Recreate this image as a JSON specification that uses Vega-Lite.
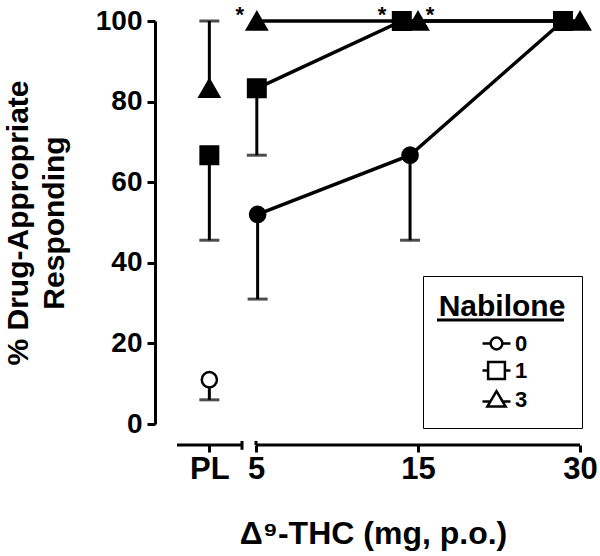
{
  "$schema": "https://vega.github.io/schema/vega-lite/v6.json",
  "width": 436,
  "height": 403,
  "autosize": {"type": "none"},
  "padding": {"left": 155, "top": 21, "right": 9, "bottom": 132},
  "background": "white",
  "config": {
    "view": {"stroke": null},
    "font": "Liberation Sans",
    "axis": {
      "labelFont": "Liberation Sans",
      "titleFont": "Liberation Sans",
      "labelFontWeight": "bold",
      "titleFontWeight": "bold",
      "labelColor": "black",
      "titleColor": "black",
      "domainColor": "black",
      "tickColor": "black",
      "grid": false,
      "labelFlush": false,
      "labelOverlap": false,
      "labelBound": false
    }
  },
  "datasets": {
    "points": [
      {"dose": "PL", "pos": 0.712, "group": "0", "pct": 11, "cap": 6},
      {"dose": "PL", "pos": 0.712, "group": "1", "pct": 66.7, "cap": 45.6},
      {"dose": "PL", "pos": 0.712, "group": "3", "pct": 83.3, "cap": 100},
      {"dose": "5", "pos": 1.01, "group": "0", "pct": 52, "cap": 31},
      {"dose": "5", "pos": 1.005, "group": "1", "pct": 83.3, "cap": 66.7},
      {"dose": "5", "pos": 1.005, "group": "3", "pct": 100, "cap": null},
      {"dose": "15", "pos": 1.951, "group": "0", "pct": 66.7, "cap": 45.6},
      {"dose": "15", "pos": 1.9, "group": "1", "pct": 100, "cap": null},
      {"dose": "15", "pos": 2.0, "group": "3", "pct": 100, "cap": null},
      {"dose": "30", "pos": 2.895, "group": "0", "pct": 100, "cap": null},
      {"dose": "30", "pos": 2.895, "group": "1", "pct": 100, "cap": null},
      {"dose": "30", "pos": 3.0, "group": "3", "pct": 100, "cap": null}
    ],
    "stars": [
      {"pos": 0.9, "pct": 104, "label": "*"},
      {"pos": 1.778, "pct": 104, "label": "*"},
      {"pos": 2.074, "pct": 104, "label": "*"}
    ],
    "guides": [
      {"part": "x axis, PL segment", "pos": 0.5123, "pos_end": 0.9136, "pct": -5.2, "pct_end": -5.2},
      {"part": "x axis, dose segment", "pos": 1.0, "pos_end": 3.0, "pct": -5.2, "pct_end": -5.2},
      {"part": "break end", "pos": 0.9136, "pos_end": 0.9136, "pct": -4.2, "pct_end": -6.4},
      {"part": "break start", "pos": 1.0, "pos_end": 1.0, "pct": -4.2, "pct_end": -5.2},
      {"part": "legend title underline", "pos": 2.117, "pos_end": 2.901, "pct": 25.8, "pct_end": 25.8}
    ]
  },
  "data": {"name": "points"},
  "encoding": {
    "x": {
      "field": "pos",
      "type": "quantitative",
      "scale": {"domain": [0.3765, 3.068], "nice": false, "zero": false},
      "axis": {
        "values": [0.712, 1, 2, 3],
        "labelExpr": "datum.value < 0.9 ? 'PL' : datum.value < 1.5 ? '5' : datum.value < 2.5 ? '15' : '30'",
        "domain": false,
        "offset": 21,
        "tickSize": 7,
        "tickWidth": 3,
        "labelFontSize": 31,
        "labelPadding": 2,
        "title": "Δ⁹-THC (mg, p.o.)",
        "titleFontSize": 32,
        "titlePadding": 34
      }
    },
    "y": {
      "field": "pct",
      "type": "quantitative",
      "scale": {"domain": [0, 100], "nice": false},
      "axis": {
        "values": [0, 20, 40, 60, 80, 100],
        "domainWidth": 3,
        "tickSize": 8,
        "tickWidth": 3,
        "labelFontSize": 28,
        "labelPadding": 5,
        "title": ["% Drug-Appropriate", "Responding"],
        "titleFontSize": 30,
        "titleLineHeight": 36,
        "titlePadding": 26
      }
    }
  },
  "layer": [
    {
      "transform": [{"filter": "datum.dose !== 'PL'"}],
      "mark": {"type": "line", "color": "black", "strokeWidth": 3.5},
      "encoding": {"detail": {"field": "group"}, "order": {"field": "pos"}}
    },
    {
      "transform": [{"filter": "isValid(datum.cap)"}],
      "mark": {"type": "rule", "color": "black", "strokeWidth": 3},
      "encoding": {"y2": {"field": "cap"}}
    },
    {
      "transform": [{"filter": "isValid(datum.cap)"}],
      "mark": {"type": "tick", "orient": "horizontal", "color": "black", "thickness": 3, "size": 20},
      "encoding": {"y": {"field": "cap", "type": "quantitative", "scale": {"domain": [0, 100], "nice": false}, "axis": {"title": ["% Drug-Appropriate", "Responding"]}}}
    },
    {
      "mark": {"type": "point", "filled": true, "opacity": 1, "strokeWidth": 2.5},
      "encoding": {
        "shape": {"field": "group", "type": "nominal", "scale": {"domain": ["0", "1", "3"], "range": ["circle", "square", "triangle-up"]}, "legend": null},
        "size": {"field": "group", "type": "ordinal", "scale": {"domain": ["0", "1", "3"], "range": [230, 380, 420]}, "legend": null},
        "fill": {"condition": {"test": "datum.dose === 'PL' && datum.group === '0'", "value": "white"}, "value": "black"},
        "stroke": {"value": "black"}
      }
    },
    {
      "mark": {"type": "point", "filled": false, "color": "black", "opacity": 0},
      "encoding": {
        "shape": {
          "field": "group",
          "type": "nominal",
          "title": "Nabilone",
          "scale": {
            "domain": ["0", "1", "3"],
            "range": [
              "M-1,0H-0.42M0.42,0H1M0.42,0A0.42,0.42,0,1,1,-0.42,0A0.42,0.42,0,1,1,0.42,0Z",
              "M-1,0H-0.6M0.6,0H1M-0.6,-0.6H0.6V0.6H-0.6Z",
              "M-1,0.15H-0.5M0.5,0.15H1M0,-0.6L0.65,0.5H-0.65Z"
            ]
          },
          "legend": {
            "orient": "none",
            "legendX": 268,
            "legendY": 255,
            "titleFont": "Liberation Sans",
            "titleFontSize": 30,
            "titleFontWeight": "bold",
            "titleColor": "black",
            "titleAnchor": "middle",
            "titlePadding": 6,
            "labelFont": "Liberation Sans",
            "labelFontSize": 22,
            "labelFontWeight": "bold",
            "labelColor": "black",
            "symbolSize": 784,
            "symbolStrokeWidth": 2.5,
            "symbolStrokeColor": "black",
            "symbolOpacity": 1,
            "symbolOffset": 5,
            "labelOffset": 3,
            "padding": 16,
            "strokeColor": "black",
            "rowPadding": 0,
            "encode": {"legend": {"strokeWidth": {"value": 3}}}
          }
        }
      }
    },
    {
      "data": {"name": "stars"},
      "mark": {"type": "text", "fontSize": 22, "fontWeight": "bold", "baseline": "top", "align": "center", "color": "black", "font": "Liberation Sans"},
      "encoding": {"text": {"field": "label"}}
    },
    {
      "data": {"name": "guides"},
      "mark": {"type": "rule", "color": "black", "strokeWidth": 3},
      "encoding": {
        "x2": {"field": "pos_end"},
        "y2": {"field": "pct_end"}
      }
    }
  ],
  "resolve": {"scale": {"shape": "independent"}, "legend": {"shape": "independent"}}
}
